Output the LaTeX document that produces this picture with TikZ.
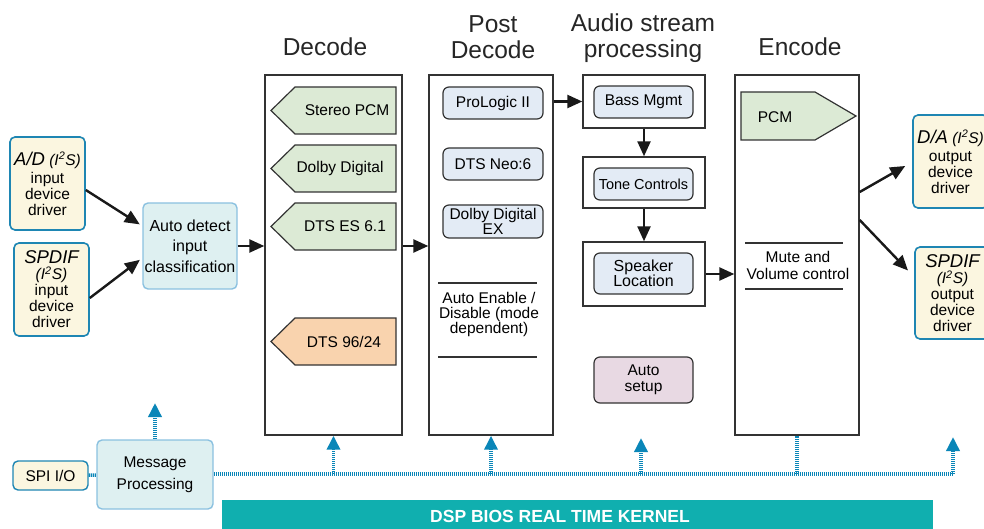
\documentclass[tikz,border=0pt]{standalone}
\usepackage{fontspec}
\setmainfont{Liberation Sans}
\usepackage{xcolor}
\usetikzlibrary{arrows.meta}

\definecolor{drvfill}{HTML}{FBF6E0}
\definecolor{drvline}{HTML}{1E86B3}
\definecolor{detfill}{HTML}{DEF0F1}
\definecolor{detline}{HTML}{8BC1E0}
\definecolor{taggreen}{HTML}{DCEAD5}
\definecolor{tagorange}{HTML}{F9D3AE}
\definecolor{modefill}{HTML}{E3EBF5}
\definecolor{setupfill}{HTML}{E8D9E3}
\definecolor{busblue}{HTML}{0A86B8}
\definecolor{kernelc}{HTML}{10AFAF}

\begin{document}
\begin{tikzpicture}[
  x=1pt,y=-1pt,
  font=\fontsize{15.5}{16}\selectfont,
  >={Triangle[length=15pt,width=13pt]},
  stage/.style={draw=black!80,line width=1.4pt,inner sep=0pt},
  head/.style={font=\fontsize{24.5}{26}\selectfont,align=center,text=black!85},
  drv/.style={draw=drvline,fill=drvfill,rounded corners=5pt,line width=1.6pt,align=center,inner sep=0pt},
  detect/.style={draw=detline,fill=detfill,rounded corners=5pt,line width=1.4pt,align=center,inner sep=0pt},
  mode/.style={draw=black!80,fill=modefill,rounded corners=6pt,line width=1.2pt,align=center,inner sep=0pt},
  tagg/.style={draw=black!80,line width=1.2pt,fill=taggreen},
  ed/.style={->,line width=2.4pt,black!90},
  bus/.style={draw=busblue,line width=3.4pt,dash pattern=on 1.2pt off 0.8pt},
  busarr/.style={bus,-{Triangle[length=14pt,width=13pt]}},
  rule/.style={line width=1.2pt,black!80}
]
\useasboundingbox (0,0) rectangle (984,529);
\clip (0,0) rectangle (984,529);

% ---------------- headings ----------------
\node[head,anchor=base] (hdec)   at (325,56) {Decode};
\node[head,anchor=base] (hpost)  at (493,59) {Post\\Decode};
\node[head,anchor=base] (haudio) at (643,58) {Audio stream\\processing};
\node[head,anchor=base] (henc)   at (800,56) {Encode};

% ---------------- inputs ----------------
\node[drv,minimum width=75,minimum height=93] (adc) at (47.5,183.5)
  {{\fontsize{18.5}{18}\selectfont\itshape A/D} {\itshape(I\textsuperscript{2}S)}\\[2pt]input\\device\\driver};
\node[drv,minimum width=75,minimum height=93] (spi_in) at (51.5,289.5)
  {{\fontsize{18.5}{17}\selectfont\itshape SPDIF}\\{\itshape(I\textsuperscript{2}S)}\\input\\device\\driver};
\node[detect,minimum width=94,minimum height=86,font=\fontsize{16}{20.5}\selectfont] (det) at (190,246)
  {Auto detect\\input\\classification};
\draw[ed,shorten >=3pt] (adc.east |- 0,190) -- (det.west |- 0,226);
\draw[ed,shorten >=3pt] (spi_in.east |- 0,298) -- (det.west |- 0,258);

% ---------------- decode ----------------
\node[stage,minimum width=137,minimum height=360] (decode) at (333.5,255) {};
\draw[tagg] (396,87) -- (295,87) -- (271,110.5) -- (295,134) -- (396,134) -- cycle;
\node (stereo) at (347,110.5) {Stereo PCM};
\draw[tagg] (396,145) -- (295,145) -- (271,168.5) -- (295,192) -- (396,192) -- cycle;
\node (dolby) at (340,168.5) {Dolby Digital};
\draw[tagg] (396,203) -- (295,203) -- (271,226.5) -- (295,250) -- (396,250) -- cycle;
\node (dtses) at (345,226.5) {DTS ES 6.1};
\draw[tagg,fill=tagorange] (396,318) -- (295,318) -- (271,341.5) -- (295,365) -- (396,365) -- cycle;
\node (dts96) at (344,341.5) {DTS 96/24};
\draw[ed] (det) -- (det -| decode.west);

% ---------------- post decode ----------------
\node[stage,minimum width=124,minimum height=360] (post) at (491,255) {};
\node[mode,minimum width=100,minimum height=32] (plii) at (493,103) {ProLogic II};
\node[mode,minimum width=100,minimum height=32] (neo) at (493,164) {DTS Neo:6};
\node[mode,minimum width=100,minimum height=33,font=\fontsize{15.5}{12}\selectfont] (ddex) at (493,221.5) {Dolby Digital\\EX};
\draw[rule] (438,283) -- (537,283);
\draw[rule] (438,357) -- (537,357);
\node[align=center,font=\fontsize{15.5}{15}\selectfont] (autoen) at (489,314) {Auto Enable /\\Disable (mode\\dependent)};
\draw[ed] (decode.east |- det) -- (post.west |- det);

% ---------------- audio stream processing ----------------
\node[stage,minimum width=122,minimum height=53] (bassbox) at (644,101.5) {};
\node[mode,minimum width=99,minimum height=32] (bass) at (643.5,102) {Bass Mgmt};
\node[stage,minimum width=122,minimum height=51] (tonebox) at (644,182.5) {};
\node[mode,minimum width=99,minimum height=32,font=\fontsize{14.5}{15}\selectfont] (tone) at (643.5,184) {Tone Controls};
\node[stage,minimum width=122,minimum height=64] (spkbox) at (644,274) {};
\node[mode,minimum width=99,minimum height=41,font=\fontsize{16}{15.5}\selectfont] (spk) at (643.5,273.5) {Speaker\\Location};
\node[mode,fill=setupfill,minimum width=99,minimum height=46] (setup) at (643.5,380) {Auto\\setup};
\draw[ed] (post.east |- bassbox) -- (bassbox.west);
\draw[ed] (bassbox) -- (tonebox);
\draw[ed] (tonebox) -- (spkbox);

% ---------------- encode ----------------
\node[stage,minimum width=124,minimum height=360] (encode) at (797,255) {};
\draw[tagg] (741,92) -- (815,92) -- (856,116) -- (815,140) -- (741,140) -- cycle;
\node (pcm) at (775,117) {PCM};
\draw[rule] (745,243) -- (843,243);
\draw[rule] (745,289) -- (843,289);
\node[align=center,font=\fontsize{15.5}{17}\selectfont] (mute) at (798,265) {Mute and\\Volume control};
\draw[ed] (spkbox) -- (spkbox -| encode.west);

% ---------------- outputs ----------------
\node[drv,minimum width=75,minimum height=93] (dac) at (950.5,161.5)
  {{\fontsize{18.5}{18}\selectfont\itshape D/A} {\itshape(I\textsuperscript{2}S)}\\[2pt]output\\device\\driver};
\node[drv,minimum width=75,minimum height=92] (spi_out) at (952.5,293)
  {{\fontsize{18.5}{17}\selectfont\itshape SPDIF}\\{\itshape(I\textsuperscript{2}S)}\\output\\device\\driver};
\draw[ed,shorten >=8pt] (encode.east |- 0,192) -- (dac.west |- 0,162);
\draw[ed,shorten >=9pt] (encode.east |- 0,220) -- (spi_out.west |- 0,277);

% ---------------- control bus ----------------
\node[drv,minimum width=75,minimum height=29,line width=1.4pt] (spiio) at (50.5,475.5) {SPI I/O};
\node[detect,minimum width=116,minimum height=69,font=\fontsize{15.5}{22}\selectfont] (msg) at (155,474.5) {Message\\Processing};
\coordinate (busend) at (953,474);
\coordinate (msgtip) at (155,403);
\coordinate (setuptip) at (641,438);
\coordinate (drvtip) at (953,437);
\draw[bus] (spiio) -- (msg);
\draw[bus] (msg.east |- busend) -- (busend);
\draw[busarr] (msg.north) -- (msgtip);
\draw[busarr] (decode.south |- busend) -- (decode.south);
\draw[busarr] (post.south |- busend) -- (post.south);
\draw[busarr] (setuptip |- busend) -- (setuptip);
\draw[bus] (encode.south |- busend) -- (encode.south);
\draw[busarr] (busend) -- (drvtip);

% ---------------- kernel ----------------
\fill[kernelc] (222,500) rectangle (933,530);
\node[text=white,font=\fontsize{17.5}{18}\bfseries] (kernel) at (560,516) {DSP BIOS REAL TIME KERNEL};
\end{tikzpicture}
\end{document}
